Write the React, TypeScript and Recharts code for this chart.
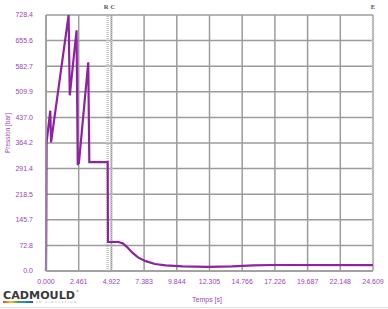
import { LineChart, Line, XAxis, YAxis, CartesianGrid, ReferenceLine } from 'recharts'

// tick labels as printed on the chart
const xTickLabels = ['0.000', '2.461', '4.922', '7.383', '9.844', '12.305', '14.766', '17.226', '19.687', '22.148', '24.609']
const yTickLabels = ['0.0', '72.8', '145.7', '218.5', '291.4', '364.2', '437.0', '509.9', '582.7', '655.6', '728.4']

const xTicks = xTickLabels.map((_, k) => +(k * 2.4609).toFixed(4))
const yTicks = yTickLabels.map((_, k) => +(k * 72.84).toFixed(3))

// temps [s]
const temps = [
  0, 0.02, 0.045, 0.32, 0.38, 1.7, 1.79, 2.3, 2.39, 2.43, 2.47, 3.18, 3.26, 4.64, 4.66, 5.46,
  5.8, 6.1, 6.5, 6.95, 7.5, 8.2, 9.0, 10.3, 12.2, 14.0, 15.6, 17.0, 24.609,
]
// pression [bar]
const pression = [
  0, 121, 366, 456, 366, 728, 500, 685, 301, 322, 305, 594, 310, 310, 82.5, 82.5,
  78, 68, 52, 38, 28, 20, 16, 13, 11.5, 13, 16, 17, 17,
]

// markers R, C, E
const markers = [
  { label: 'R', t: 4.64, dx: -1.5 },
  { label: 'C', t: 4.922, dx: 1.5 },
  { label: 'E', t: 24.609, dx: 0 },
]

const data = temps.map((t, i) => ({ t, p: pression[i] }))

const PURPLE = '#8e22a0'
const TICK = '#9c44b8'
const GRID = '#9c9c9c'

const labelOf = (ticks: number[], labels: string[]) => (v: number) => {
  const i = ticks.findIndex((t) => Math.abs(t - v) < 1e-6)
  return i >= 0 ? labels[i] : String(v)
}

export default function App() {
  return (
    <div style={{ position: 'absolute', left: 0, top: 0, width: 388, height: 309, background: '#fff' }}>
      <LineChart width={388} height={309} data={data} margin={{ top: 15, right: 15, bottom: 0, left: 0 }}>
        <CartesianGrid stroke={GRID} strokeWidth={1.5} />
        <XAxis
          dataKey="t"
          type="number"
          domain={[0, 24.609]}
          ticks={xTicks}
          interval={0}
          height={38}
          tickSize={0}
          tickMargin={8}
          axisLine={{ stroke: GRID, strokeWidth: 1.5 }}
          tick={{ fontSize: 7, fill: TICK, fontFamily: 'Liberation Sans, Arial' }}
          tickFormatter={labelOf(xTicks, xTickLabels)}
        />
        <YAxis
          type="number"
          domain={[0, 728.4]}
          ticks={yTicks}
          interval={0}
          width={46}
          tickSize={0}
          tickMargin={13}
          axisLine={{ stroke: GRID, strokeWidth: 1.5 }}
          tick={{ fontSize: 7, fill: TICK, fontFamily: 'Liberation Sans, Arial' }}
          tickFormatter={labelOf(yTicks, yTickLabels)}
        />
        {markers.map((m) => (
          <ReferenceLine
            key={m.label}
            x={m.t}
            stroke="#c4c4c4"
            strokeWidth={2.5}
            strokeDasharray="1 1"
            label={{ value: m.label, position: 'top', fontSize: 6.5, fill: '#555', fontWeight: 'bold', offset: 6, dx: m.dx }}
          />
        ))}
        <Line
          type="linear"
          dataKey="p"
          stroke={PURPLE}
          strokeWidth={2.2}
          dot={false}
          isAnimationActive={false}
        />
      </LineChart>
      <svg width={388} height={309} style={{ position: 'absolute', left: 0, top: 0, pointerEvents: 'none' }}>
        <text
          x={7}
          y={133}
          transform="rotate(-90 7 133)"
          textAnchor="middle"
          dominantBaseline="central"
          fontSize={6.5}
          fill={TICK}
          fontFamily="Liberation Sans, Arial"
        >
          Pression [bar]
        </text>
        <text x={207} y={302} textAnchor="middle" fontSize={7} fill={TICK} fontFamily="Liberation Sans, Arial">
          Temps [s]
        </text>
        <text
          x={3}
          y={298.5}
          fontSize={11}
          fontWeight="bold"
          fill="#3a3a3a"
          fontFamily="DejaVu Sans"
          textLength={72}
          lengthAdjust="spacingAndGlyphs"
        >
          CADMOULD
        </text>
        <text x={76} y={292} fontSize={3} fill="#555" fontFamily="DejaVu Sans">®</text>
        <defs>
          <linearGradient id="rainbow" x1="0" x2="1" y1="0" y2="0">
            <stop offset="0" stopColor="#e53935" />
            <stop offset="0.25" stopColor="#fbc02d" />
            <stop offset="0.5" stopColor="#43a047" />
            <stop offset="0.75" stopColor="#1e88e5" />
            <stop offset="1" stopColor="#3949ab" />
          </linearGradient>
        </defs>
        <rect x={3} y={301} width={30} height={2} fill="url(#rainbow)" />
        <text x={36} y={303} fontSize={2.5} fill="#999" fontFamily="DejaVu Sans" textLength={40}>
          3D SIMULATION
        </text>
        <line x1={0} y1={307.5} x2={388} y2={307.5} stroke="#ddd" strokeWidth={1} />
      </svg>
    </div>
  )
}
